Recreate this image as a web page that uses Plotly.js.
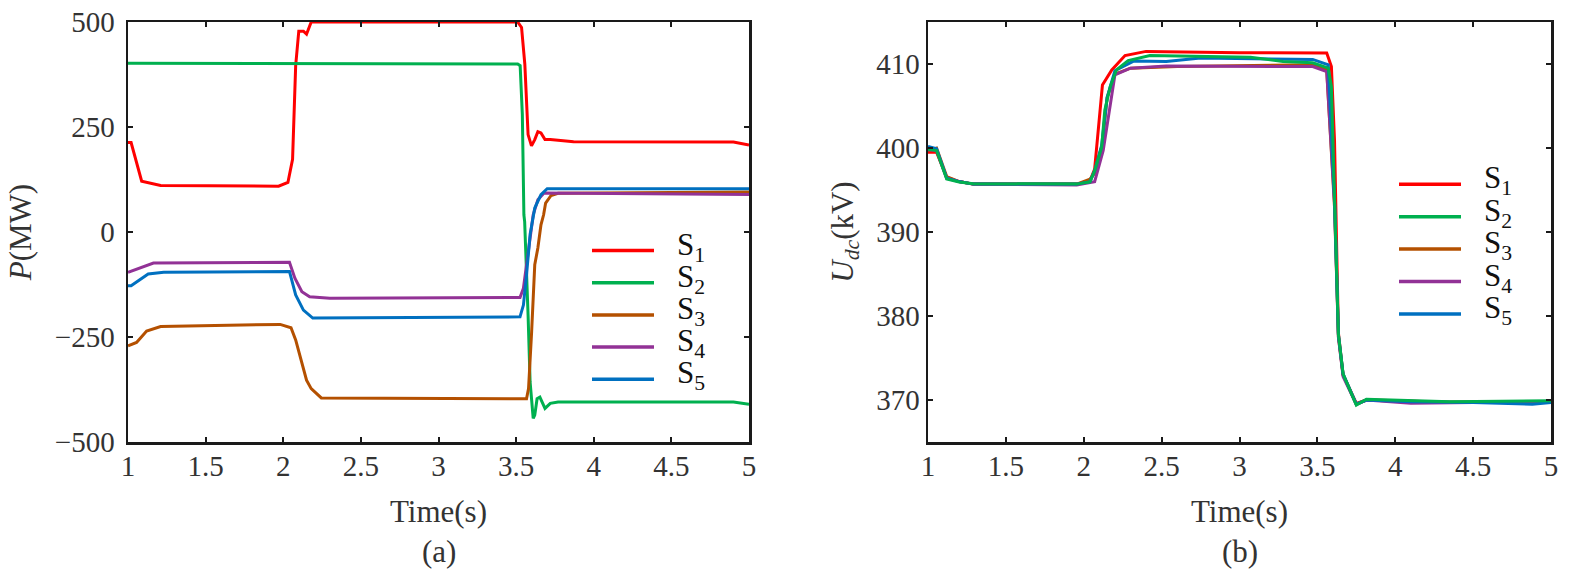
<!DOCTYPE html>
<html>
<head>
<meta charset="utf-8">
<script src="https://cdn.plot.ly/plotly-3.0.1.min.js"></script>
<style>
  html, body { margin: 0; padding: 0; background: #fff; }
  #chart { width: 1573px; height: 577px; }
</style>
</head>
<body>
<div id="chart"></div>
<script>
// (a) active power P (MW)
const tP1 = [1.0, 1.02, 1.088, 1.21, 1.97, 2.03, 2.06, 2.07, 2.08, 2.10, 2.13, 2.15, 2.18, 3.51, 3.535, 3.556, 3.567, 3.577, 3.599, 3.62, 3.64, 3.66, 3.686, 3.72, 3.87, 4.9, 5.0];
const P1  = [213, 213, 121, 111, 109, 118, 173, 285, 396, 478, 478, 471, 500, 500, 487, 400, 296, 232, 205, 220, 239, 236, 220, 220, 215, 214, 207];

const tP2 = [1.0, 3.51, 3.526, 3.54, 3.55, 3.555, 3.577, 3.59, 3.61, 3.62, 3.635, 3.653, 3.686, 3.72, 3.77, 4.9, 5.0];
const P2  = [402, 400, 396, 280, 41, 25, -198, -357, -444, -436, -397, -393, -420, -408, -405, -405, -410];

const tP3 = [1.0, 1.055, 1.12, 1.21, 1.98, 2.05, 2.08, 2.12, 2.15, 2.18, 2.245, 3.567, 3.58, 3.6, 3.62, 3.64, 3.66, 3.677, 3.69, 3.725, 3.77, 5.0];
const P3  = [-271, -263, -236, -225, -220, -228, -257, -313, -353, -373, -395, -397, -373, -237, -78, -38, 17, 41, 69, 87, 92, 95];

const tP4 = [1.0, 1.164, 2.04, 2.075, 2.12, 2.17, 2.30, 3.525, 3.547, 3.567, 3.587, 3.61, 3.64, 3.68, 5.0];
const P4  = [-96, -74, -72, -110, -142, -154, -158, -156, -134, -78, -22, 41, 77, 93, 89];

const tP5 = [1.0, 1.02, 1.13, 1.23, 2.04, 2.08, 2.13, 2.19, 3.525, 3.547, 3.567, 3.59, 3.62, 3.66, 3.70, 5.0];
const P5  = [-128, -128, -100, -96, -94, -150, -186, -205, -202, -174, -102, -6, 57, 89, 103, 103];

// (b) DC voltage Udc (kV)
const tU1 = [1.0, 1.055, 1.12, 1.2, 1.29, 1.955, 2.04, 2.07, 2.12, 2.18, 2.265, 2.40, 3.0, 3.56, 3.59, 3.61, 3.635, 3.665, 3.75, 3.815, 4.03, 4.35, 5.0];
const U1  = [399.5, 399.5, 396.5, 396.0, 395.7, 395.7, 396.1, 397.5, 407.5, 409.3, 411.0, 411.5, 411.35, 411.3, 409.7, 400.9, 378.0, 373.0, 369.6, 370.0, 369.9, 369.7, 369.8];

const tU2 = [1.0, 1.055, 1.12, 1.2, 1.29, 1.955, 2.04, 2.07, 2.115, 2.135, 2.17, 2.21, 2.285, 2.425, 3.07, 3.28, 3.47, 3.57, 3.59, 3.61, 3.635, 3.665, 3.75, 3.815, 4.03, 4.35, 5.0];
const U2  = [399.85, 399.7, 396.3, 395.95, 395.75, 395.7, 395.95, 397.3, 400.1, 404.5, 407.3, 409.3, 410.4, 411.0, 410.8, 410.3, 410.15, 409.5, 407.3, 393.8, 377.8, 373.1, 369.4, 370.1, 370.0, 369.8, 369.9];

const tU3 = [1.0, 1.055, 1.12, 1.2, 1.29, 1.955, 2.04, 2.07, 2.12, 2.15, 2.2, 2.3, 2.6, 3.47, 3.56, 3.61, 3.635, 3.665, 3.75, 3.815, 4.1, 5.0];
const U3  = [399.7, 400.0, 396.6, 396.0, 395.7, 395.7, 396.3, 397.0, 400.5, 406.0, 408.8, 409.5, 409.7, 409.9, 409.3, 393.0, 377.5, 373.0, 369.5, 370.0, 369.8, 369.7];

const tU4 = [1.0, 1.055, 1.12, 1.2, 1.29, 1.955, 2.07, 2.125, 2.2, 2.3, 2.53, 3.47, 3.56, 3.61, 3.635, 3.665, 3.75, 3.815, 4.1, 4.5, 5.0];
const U4  = [399.8, 399.7, 396.4, 396.0, 395.7, 395.6, 396.0, 399.7, 408.7, 409.5, 409.75, 409.7, 409.1, 393.5, 377.5, 372.8, 369.5, 370.0, 369.6, 369.7, 369.7];

const tU5 = [1.0, 1.055, 1.12, 1.2, 1.29, 1.955, 2.04, 2.07, 2.115, 2.15, 2.2, 2.32, 2.53, 2.75, 3.47, 3.57, 3.61, 3.635, 3.665, 3.75, 3.815, 4.1, 4.5, 4.88, 5.0];
const U5  = [400.2, 399.9, 396.4, 396.0, 395.7, 395.7, 396.0, 397.3, 400.3, 406.0, 409.2, 410.35, 410.3, 410.7, 410.55, 409.9, 393.8, 377.8, 373.1, 369.5, 370.0, 369.8, 369.7, 369.5, 369.7];

const names = ['S<sub>1</sub>', 'S<sub>2</sub>', 'S<sub>3</sub>', 'S<sub>4</sub>', 'S<sub>5</sub>'];
const colors = ['#ff0000', '#00b04f', '#b45000', '#923296', '#0070c0'];

const W = 1573, H = 577;
const serif = 'Liberation Serif';
const txt = '#333333';
const f = (size, color) => ({ family: serif, size: size, color: color || txt });

function line(x, y, i, axis) {
    return {
        x: x, y: y, type: 'scatter', mode: 'lines',
        name: names[i], xaxis: 'x' + axis, yaxis: 'y' + axis,
        showlegend: false,
        line: { color: colors[i], width: 3 }
    };
}

const traces = [
    line(tP1, P1, 0, ''),
    line(tP2, P2, 1, ''),
    line(tP3, P3, 2, ''),
    line(tP4, P4, 3, ''),
    line(tP5, P5, 4, ''),
    // green is drawn last on the right panel
    line(tU1, U1, 0, '2'),
    line(tU3, U3, 2, '2'),
    line(tU4, U4, 3, '2'),
    line(tU5, U5, 4, '2'),
    line(tU2, U2, 1, '2')
];

function axis(extra) {
    return Object.assign({
        showline: true, linecolor: '#1a1a1a', linewidth: 2.5, mirror: 'ticks',
        ticks: 'inside', ticklen: 5, tickwidth: 2, tickcolor: '#1a1a1a',
        showgrid: false, zeroline: false,
        tickfont: f(29)
    }, extra);
}

function xaxis(dom, anchor) {
    return axis({
        domain: dom, anchor: anchor,
        range: [1, 5], tickvals: [1, 1.5, 2, 2.5, 3, 3.5, 4, 4.5, 5],
        ticklabelstandoff: -3,
        title: { text: 'Time(s)', font: f(31), standoff: 19 }
    });
}

// hand-placed legend keys (pixel positions of the reference legend)
const shapes = [];
const annotations = [
    { text: '(a)', xref: 'x domain', yref: 'paper', x: 0.5, y: -0.26, showarrow: false, font: f(31), yanchor: 'middle' },
    { text: '(b)', xref: 'x2 domain', yref: 'paper', x: 0.5, y: -0.26, showarrow: false, font: f(31), yanchor: 'middle' }
];
const plotTop = 22, plotH = 420;
function legendBlock(x0, x1, yFirst, step) {
    for (let i = 0; i < names.length; i++) {
        const py = yFirst + i * step;
        const yp = (plotTop + plotH - py) / plotH;
        shapes.push({ type: 'line', xref: 'paper', yref: 'paper', x0: x0 / W, x1: x1 / W, y0: yp, y1: yp,
                      line: { color: colors[i], width: 3.5 } });
        annotations.push({ text: names[i], xref: 'paper', yref: 'paper', x: (x1 + 21) / W, y: yp,
                           xanchor: 'left', yanchor: 'middle', yshift: 4, showarrow: false, font: f(31, '#111') });
    }
}
legendBlock(592, 654, 250.5, 32.2);
legendBlock(1399, 1461, 184.3, 32.4);

const layout = {
    width: W, height: H,
    font: f(29),
    margin: { l: 0, r: 0, t: plotTop, b: H - plotTop - plotH },
    paper_bgcolor: '#fff', plot_bgcolor: '#fff',
    showlegend: false,
    xaxis: xaxis([128 / W, 749 / W], 'y'),
    yaxis: axis({
        range: [-500, 500], tickvals: [-500, -250, 0, 250, 500], anchor: 'x',
        ticklabelstandoff: 5,
        title: { text: '<i>P</i>(MW)', font: f(31), standoff: 14 }
    }),
    xaxis2: xaxis([928 / W, 1551 / W], 'y2'),
    yaxis2: axis({
        range: [365, 415], tickvals: [370, 380, 390, 400, 410], anchor: 'x2',
        title: { text: '<i>U</i><sub><i>dc</i></sub>(kV)', font: f(31), standoff: 14 }
    }),
    shapes: shapes,
    annotations: annotations
};

Plotly.newPlot('chart', traces, layout, { displayModeBar: false, staticPlot: true });
</script>
</body>
</html>
